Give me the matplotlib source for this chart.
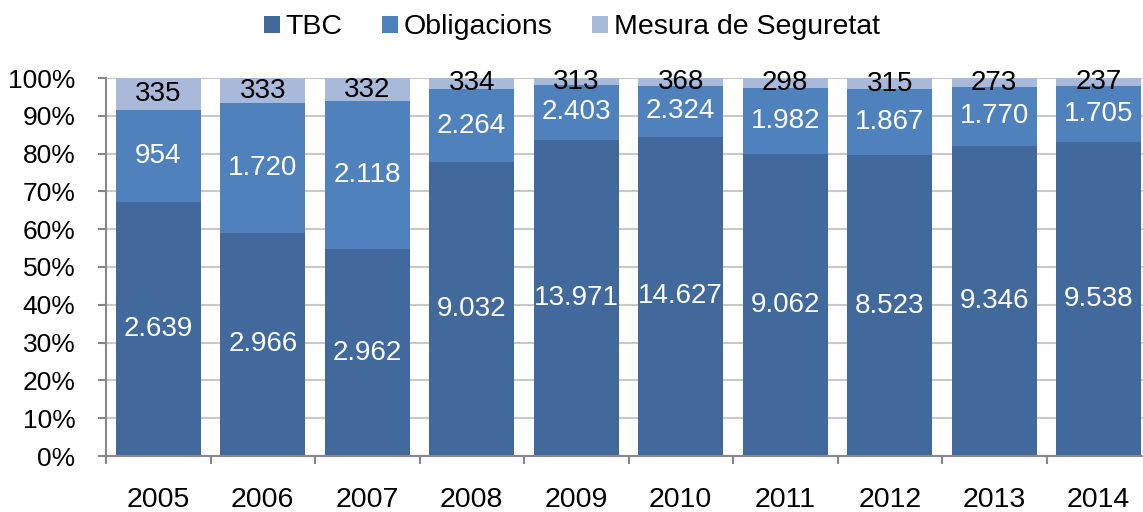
import matplotlib
matplotlib.use("Agg")
import matplotlib.pyplot as plt
import numpy as np

years = ["2005", "2006", "2007", "2008", "2009", "2010", "2011", "2012", "2013", "2014"]
tbc = [2639, 2966, 2962, 9032, 13971, 14627, 9062, 8523, 9346, 9538]
obligacions = [954, 1720, 2118, 2264, 2403, 2324, 1982, 1867, 1770, 1705]
mesura = [335, 333, 332, 334, 313, 368, 298, 315, 273, 237]
series_names = ["TBC", "Obligacions", "Mesura de Seguretat"]
colors = ["#41699B", "#4F81BD", "#A9B9D9"]
text_colors = ["white", "white", "black"]

plt.rcParams['font.family'] = ['Liberation Sans', 'DejaVu Sans']

def fmt(v):
    return f"{v:,}".replace(",", ".")

fig = plt.figure(figsize=(11.43, 5.12), dpi=100)
ax = fig.add_axes([106/1143, 56/512, 1045/1143, 378/512])

data = np.array([tbc, obligacions, mesura], dtype=float)
totals = data.sum(axis=0)
pct = data / totals * 100
x = np.arange(len(years))
bottom = np.zeros(len(years))
handles = []
for i in range(3):
    b = ax.bar(x, pct[i], 0.81, bottom=bottom, color=colors[i], label=series_names[i], zorder=2)
    handles.append(b)
    for j in range(len(years)):
        ax.text(x[j], bottom[j] + pct[i][j] / 2, fmt(int(data[i][j])), ha='center', va='center',
                color=text_colors[i], fontsize=20, zorder=3)
    bottom += pct[i]

ax.set_xlim(-0.5, len(years) - 0.5)
ax.set_ylim(0, 100)
ax.set_yticks(np.arange(0, 101, 10))
ax.set_yticklabels([f"{v}%" for v in range(0, 101, 10)], fontsize=19)
ax.yaxis.grid(True, color="#C8C8C8", linewidth=1.5, zorder=0)
ax.set_axisbelow(True)

ax.set_xticks(x)
ax.set_xticklabels(years, fontsize=20.5)
ax.tick_params(axis='x', length=0, pad=22)
ax.set_xticks(np.arange(-0.5, len(years), 1), minor=True)
ax.tick_params(axis='x', which='minor', length=6, width=1.5, color="#888888")
ax.tick_params(axis='y', length=6, width=1.5, color="#888888", pad=16)

for s in ['top', 'right']:
    ax.spines[s].set_visible(False)
ax.spines['left'].set_color("#888888")
ax.spines['left'].set_linewidth(1.5)
ax.spines['bottom'].set_color("#888888")
ax.spines['bottom'].set_linewidth(1.5)

fig.legend(handles=handles, labels=series_names, loc='upper center', bbox_to_anchor=(572/1143, 1.0),
           ncol=3, frameon=False, fontsize=20.5, handlelength=0.55, handleheight=0.55,
           handletextpad=0.2, columnspacing=1.4, borderaxespad=0.1)

fig.savefig("out.png", dpi=100)
